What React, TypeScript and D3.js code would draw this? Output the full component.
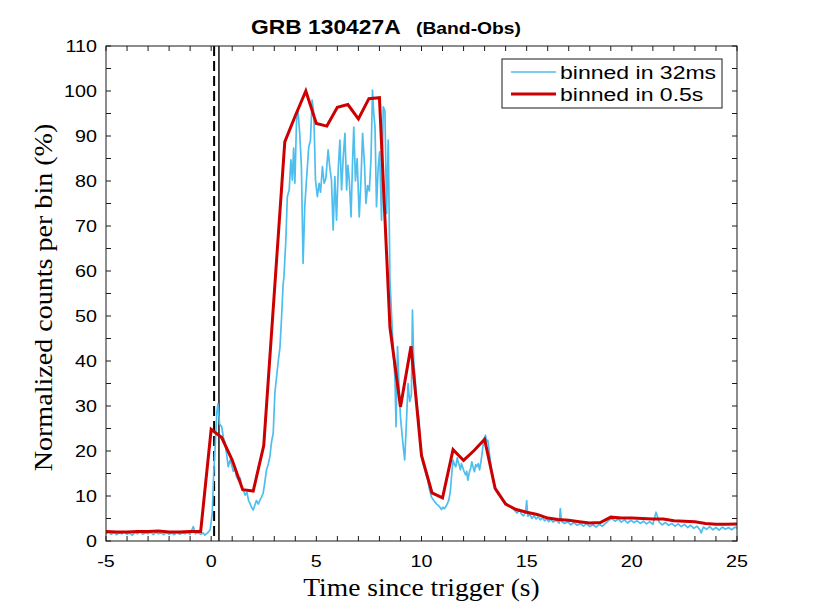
import * as d3 from "d3"

// ---- data ----

// 0.5 s binned light curve, one value per bin starting at -5 s
const coarseStart = -5
const coarseStep = 0.5
const coarseCounts = [
  2.1, 2.0, 2.0, 2.1, 2.1, 2.2, 2.0, 2.0, 2.1, 2.1,
  24.8, 23.0, 18.0, 11.4, 11.1, 21.2, 55.0, 88.7, 94.5, 100.0,
  92.8, 92.2, 96.4, 97.0, 93.8, 98.3, 98.5, 47.5, 29.8, 43.3,
  19.0, 10.7, 9.6, 20.3, 17.9, 20.1, 22.6, 11.7, 8.2, 7.0,
  6.4, 5.9, 5.1, 4.8, 4.6, 4.3, 4.0, 4.1, 5.3, 5.1,
  5.1, 5.0, 4.9, 4.9, 4.5, 4.4, 4.3, 3.9, 3.7, 3.7, 3.8,
]

// 32 ms binned light curve (time, normalized counts), read as dense samples
const fineQuiet: [number, number][] = [
  [-5.0, 1.6], [-4.88, 2.0], [-4.75, 1.5], [-4.62, 1.9], [-4.5, 1.4], [-4.38, 1.8],
  [-4.25, 1.6], [-4.12, 2.0], [-4.0, 1.5], [-3.88, 1.8], [-3.75, 1.3], [-3.62, 1.9],
  [-3.5, 1.6], [-3.38, 2.1], [-3.25, 1.5], [-3.12, 1.8], [-3.0, 1.6], [-2.88, 2.0],
  [-2.75, 1.4], [-2.62, 1.9], [-2.5, 1.6], [-2.38, 1.8], [-2.25, 1.4], [-2.12, 1.9],
  [-2.0, 1.5], [-1.88, 1.8], [-1.75, 1.4], [-1.62, 2.0], [-1.5, 1.5], [-1.38, 1.8],
  [-1.25, 1.6], [-1.12, 1.9], [-1.0, 1.5], [-0.85, 3.2], [-0.75, 1.6], [-0.62, 1.9],
  [-0.5, 1.5], [-0.38, 1.8], [-0.3, 1.3], [-0.15, 1.9], [-0.05, 2.5],
]

const fineBurst: [number, number][] = [
  [0.05, 6], [0.12, 15], [0.2, 22], [0.27, 28.5], [0.32, 30.5], [0.4, 26], [0.5, 25.4],
  [0.58, 23], [0.65, 22], [0.73, 19.5], [0.81, 16.5], [0.9, 18], [0.97, 17], [1.05, 15.5],
  [1.13, 16], [1.2, 14.3], [1.3, 13.5], [1.38, 14], [1.45, 12], [1.55, 11], [1.62, 10.2],
  [1.7, 10.8], [1.78, 9], [1.84, 8.4], [1.92, 7.5], [2.0, 6.9], [2.08, 8], [2.15, 9],
  [2.24, 8.2], [2.32, 9.1], [2.4, 9.8], [2.47, 10.6], [2.55, 13], [2.63, 15.8], [2.71, 17],
  [2.79, 18.7], [2.87, 22], [2.95, 24], [3.03, 33], [3.1, 36], [3.19, 40], [3.27, 43],
  [3.35, 50], [3.42, 57], [3.46, 58.7], [3.55, 66.9], [3.62, 76.5], [3.71, 78], [3.79, 84.7],
  [3.86, 80.2], [3.92, 87.3], [3.98, 79.5], [4.06, 93.6], [4.13, 95.4], [4.21, 90.6],
  [4.29, 83.2], [4.37, 61.7], [4.45, 74.3], [4.53, 80.2], [4.64, 87.6], [4.72, 89],
  [4.8, 98], [4.88, 95], [4.96, 80.2], [5.05, 76.5], [5.13, 79.5], [5.2, 77.5], [5.29, 83.2],
  [5.37, 79.5], [5.45, 80.5], [5.56, 86.9], [5.64, 83], [5.72, 80.2], [5.8, 69.1], [5.88, 81],
  [5.96, 71.3], [6.04, 82.4], [6.12, 89.1], [6.2, 78], [6.28, 85.4], [6.36, 90.6], [6.44, 78],
  [6.5, 83.5], [6.57, 80], [6.65, 72], [6.72, 84], [6.78, 92], [6.86, 80], [6.94, 85],
  [7.04, 72], [7.12, 80], [7.2, 90.6], [7.29, 83.5], [7.36, 75], [7.44, 79], [7.52, 77.8],
  [7.6, 85], [7.67, 100.2], [7.73, 95], [7.79, 92], [7.86, 74.3], [7.94, 83], [8.01, 86.5],
  [8.1, 71.3], [8.18, 96.5], [8.26, 95.6], [8.34, 72.8], [8.42, 89.1], [8.5, 58], [8.58, 50],
  [8.66, 42], [8.74, 35.8], [8.79, 25.4], [8.86, 43.2], [8.95, 32], [9.0, 27.6], [9.07, 24],
  [9.13, 21], [9.2, 18], [9.28, 26], [9.36, 35], [9.44, 31], [9.52, 32.5], [9.57, 51.3],
  [9.63, 40], [9.7, 36], [9.76, 32], [9.82, 29], [9.88, 27], [9.94, 22], [10.0, 18.7],
  [10.08, 17], [10.16, 15.8], [10.23, 14.5], [10.3, 13.5], [10.38, 11.5], [10.47, 9.8],
  [10.55, 9.2], [10.63, 8.7], [10.72, 8.2], [10.8, 7.9], [10.86, 7.6], [10.95, 7.0],
  [11.02, 7.5], [11.1, 7.2], [11.2, 8.0], [11.3, 9.1], [11.37, 11], [11.44, 15], [11.5, 18],
  [11.57, 17], [11.63, 16.5], [11.7, 18.5], [11.74, 17.6], [11.8, 16.8], [11.85, 15.8],
  [11.9, 17.2], [11.95, 16.5], [12.02, 15.5], [12.1, 14.7], [12.15, 15.5], [12.2, 13.5],
  [12.28, 15.4], [12.34, 16.2], [12.39, 17.6], [12.45, 16.5], [12.52, 15.4], [12.58, 17],
  [12.63, 16.5], [12.7, 17.2], [12.76, 15.8], [12.84, 18], [12.92, 21], [12.98, 22.8],
  [13.04, 23.5], [13.1, 22], [13.15, 22.4], [13.23, 19.5], [13.31, 16.5], [13.39, 14],
  [13.47, 12.1], [13.55, 11.3], [13.63, 10.5], [13.71, 10.1], [13.79, 9.8], [13.9, 9.0],
  [14.03, 8.3], [14.15, 7.8], [14.25, 7.6], [14.35, 7.2], [14.45, 6.7],
]

const fineTail: [number, number][] = [
  [14.55, 6.2], [14.65, 7.0], [14.75, 6.0], [14.85, 5.6], [14.95, 6.3], [15.0, 9.0],
  [15.05, 5.5], [15.15, 5.9], [15.25, 5.0], [15.35, 5.6], [15.45, 4.9], [15.55, 5.4],
  [15.65, 4.7], [15.75, 5.2], [15.85, 4.5], [15.95, 4.9], [16.05, 4.3], [16.15, 4.8],
  [16.25, 4.2], [16.4, 4.6], [16.55, 4.0], [16.6, 7.2], [16.65, 4.4], [16.8, 3.9],
  [16.95, 4.3], [17.1, 3.6], [17.25, 4.1], [17.4, 3.5], [17.55, 3.9], [17.7, 3.3],
  [17.85, 3.8], [18.0, 3.2], [18.15, 3.6], [18.3, 3.1], [18.45, 3.7], [18.6, 3.3],
  [18.75, 3.9], [18.9, 4.6], [19.05, 5.0], [19.2, 4.4], [19.35, 4.9], [19.5, 4.2],
  [19.65, 4.7], [19.8, 4.0], [19.95, 4.6], [20.1, 4.1], [20.25, 4.5], [20.4, 3.9],
  [20.55, 4.4], [20.7, 3.8], [20.85, 4.3], [21.0, 3.7], [21.15, 6.4], [21.3, 4.2],
  [21.45, 3.6], [21.6, 4.1], [21.75, 3.5], [21.9, 3.9], [22.05, 3.3], [22.2, 3.8],
  [22.35, 3.2], [22.5, 3.7], [22.65, 3.0], [22.8, 3.5], [22.95, 2.8], [23.1, 3.3],
  [23.25, 2.4], [23.3, 1.8], [23.4, 3.1], [23.55, 2.6], [23.7, 3.2], [23.85, 2.5],
  [24.0, 3.0], [24.15, 2.4], [24.3, 3.1], [24.45, 2.6], [24.6, 3.0], [24.75, 2.5],
  [24.9, 3.1], [25.0, 2.8],
]

// vertical reference lines (s)
const dashedMarkerTime = 0.14
const solidMarkerTime = 0.37

const xMajorTicks = [-5, 0, 5, 10, 15, 20, 25]
const yMajorTicks = [0, 10, 20, 30, 40, 50, 60, 70, 80, 90, 100, 110]

const legendLabels = ["binned in 32ms", "binned in 0.5s"]

// ---- layout ----
const W = 814
const H = 610
const margin = { top: 46, right: 77, bottom: 69, left: 106 }
const innerW = W - margin.left - margin.right
const innerH = H - margin.top - margin.bottom

const BLUE = "#4DBEEE"
const RED = "#CC0000"
const AXIS = "#1a1a1a"
const SANS = "'Liberation Sans', Arial, Helvetica, sans-serif"
const SERIF = "'Liberation Serif', 'Times New Roman', serif"

type STextProps = {
  x: number
  y: number
  sx?: number
  anchor?: "start" | "middle" | "end"
  size: number
  family?: string
  weight?: string | number
  children: React.ReactNode
}

// text with a small horizontal stretch (the reference glyphs are a bit wide)
function SText({ x, y, sx = 1, anchor = "start", size, family = SANS, weight = "normal", children }: STextProps) {
  return (
    <text
      transform={`translate(${x},${y}) scale(${sx},1)`}
      textAnchor={anchor}
      fontSize={size}
      fontFamily={family}
      fontWeight={weight}
      fill="#000"
    >
      {children}
    </text>
  )
}

export default function App() {
  const x = d3.scaleLinear().domain([-5, 25]).range([0, innerW])
  const y = d3.scaleLinear().domain([0, 110]).range([innerH, 0])

  const coarse: [number, number][] = coarseCounts.map((v, i) => [coarseStart + i * coarseStep, v])
  const fine = [...fineQuiet, ...fineBurst, ...fineTail]

  const line = d3
    .line<[number, number]>()
    .x(d => x(d[0]))
    .y(d => y(d[1]))

  const xMinor = d3.range(-5, 26, 1)
  const yMinor = d3.range(0, 111, 5)
  const tickLen = 5

  const legendX = 502
  const legendY = 59
  const legendW = 220
  const legendH = 49

  return (
    <div style={{ position: "absolute", left: 0, top: 0 }}>
      <svg width={W} height={H} style={{ display: "block", background: "#fff" }}>
        {/* title */}
        <SText x={251} y={34} sx={1.17} size={19.5} weight="bold">GRB 130427A</SText>
        <SText x={416} y={34} sx={1.17} size={16.5} weight="bold">(Band-Obs)</SText>

        <g transform={`translate(${margin.left},${margin.top})`}>
          {/* markers */}
          <line
            x1={x(dashedMarkerTime)} x2={x(dashedMarkerTime)} y1={0} y2={innerH}
            stroke="#000" strokeWidth={2} strokeDasharray="10,5"
          />
          <line
            x1={x(solidMarkerTime)} x2={x(solidMarkerTime)} y1={0} y2={innerH}
            stroke="#000" strokeWidth={1.4}
          />

          {/* curves */}
          <path d={line(fine) ?? ""} fill="none" stroke={BLUE} strokeWidth={1.7} strokeLinejoin="round" />
          <path d={line(coarse) ?? ""} fill="none" stroke={RED} strokeWidth={3} strokeLinejoin="miter" />

          {/* frame */}
          <rect x={0} y={0} width={innerW} height={innerH} fill="none" stroke={AXIS} strokeWidth={1} />

          {/* x ticks (bottom + top) */}
          {xMinor.map(t => (
            <g key={`xm${t}`}>
              <line x1={x(t)} x2={x(t)} y1={innerH} y2={innerH - tickLen} stroke={AXIS} />
              <line x1={x(t)} x2={x(t)} y1={0} y2={tickLen} stroke={AXIS} />
            </g>
          ))}
          {xMajorTicks.map(t => (
            <SText key={`xl${t}`} x={x(t)} y={innerH + 26} sx={1.16} anchor="middle" size={17}>
              {t}
            </SText>
          ))}

          {/* y ticks (left + right) */}
          {yMinor.map(v => (
            <g key={`ym${v}`}>
              <line x1={0} x2={tickLen} y1={y(v)} y2={y(v)} stroke={AXIS} />
              <line x1={innerW} x2={innerW - tickLen} y1={y(v)} y2={y(v)} stroke={AXIS} />
            </g>
          ))}
          {yMajorTicks.map(v => (
            <SText key={`yl${v}`} x={-9} y={y(v) + 6} sx={1.16} anchor="end" size={17}>
              {v}
            </SText>
          ))}
        </g>

        {/* axis labels */}
        <SText x={margin.left + innerW / 2} y={596} sx={1.1} anchor="middle" size={25} family={SERIF}>
          Time since trigger (s)
        </SText>
        <text
          transform={`translate(${52},${margin.top + innerH / 2 + 4}) rotate(-90) scale(1.08,1)`}
          textAnchor="middle"
          fontSize={26}
          fontFamily={SERIF}
          fill="#000"
        >
          Normalized counts per bin (%)
        </text>

        {/* legend */}
        <rect x={legendX} y={legendY} width={legendW} height={legendH} fill="#fff" stroke={AXIS} strokeWidth={1} />
        <line x1={legendX + 9} x2={legendX + 54} y1={legendY + 13} y2={legendY + 13} stroke={BLUE} strokeWidth={1.5} />
        <line x1={legendX + 9} x2={legendX + 54} y1={legendY + 35} y2={legendY + 35} stroke={RED} strokeWidth={3} />
        <SText x={legendX + 58} y={legendY + 20} sx={1.28} size={18}>{legendLabels[0]}</SText>
        <SText x={legendX + 58} y={legendY + 42} sx={1.28} size={18}>{legendLabels[1]}</SText>
      </svg>
    </div>
  )
}
